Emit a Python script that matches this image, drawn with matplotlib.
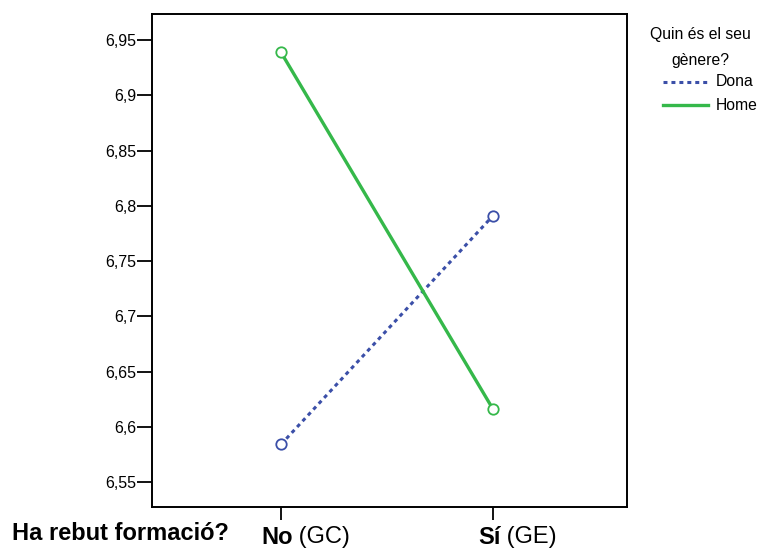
import matplotlib
matplotlib.use("Agg")
import matplotlib.pyplot as plt
from matplotlib.lines import Line2D

plt.rcParams['font.family'] = ['Liberation Sans', 'DejaVu Sans']

groups = ["No", "Sí"]
group_notes = ["(GC)", "(GE)"]
series_names = ["Dona", "Home"]
dona = [6.584, 6.791]
home = [6.939, 6.616]
yticks = [6.55, 6.6, 6.65, 6.7, 6.75, 6.8, 6.85, 6.9, 6.95]
ytick_labels = ["6,55", "6,6", "6,65", "6,7", "6,75", "6,8", "6,85", "6,9", "6,95"]

blue = "#3b4fa8"
green = "#35b84a"

fig = plt.figure(figsize=(7.6, 5.52), dpi=100)
ax = fig.add_axes([0.2, 0.0815, 0.625, 0.893])

x = list(range(len(groups)))
dotted = (0, (1.3, 1.3))
ax.plot(x, dona, color=blue, lw=2.2, ls=dotted, zorder=2)
ax.plot(x, home, color=green, lw=2.4, zorder=2)
ax.plot(x, dona, ls="none", marker="o", ms=7.5, mfc="white", mec=blue, mew=1.3, zorder=3)
ax.plot(x, home, ls="none", marker="o", ms=7.5, mfc="white", mec=green, mew=1.3, zorder=3)

ax.set_xlim(-0.608, 1.632)
ax.set_ylim(6.5274, 6.9735)
ax.set_yticks(yticks)
ax.set_yticklabels(ytick_labels, fontsize=11.5)
ax.set_xticks(x)
ax.set_xticklabels(["", ""])
ax.tick_params(axis='y', direction='out', length=10.5, width=1.3, pad=1)
ax.tick_params(axis='x', direction='out', length=9, width=1.3)
for s in ax.spines.values():
    s.set_linewidth(1.4)

# category labels: bold group name followed by regular note
for xi, g, n, dx in zip(x, groups, group_notes, (-20, -15)):
    t = ax.annotate(g, xy=(xi, 0), xycoords=('data', 'axes fraction'),
                    xytext=(dx, -30), textcoords='offset pixels',
                    ha='left', va='center', fontsize=17, fontweight='bold')
    ax.annotate(" " + n, xy=(1, 0.5), xycoords=t, ha='left', va='center',
                fontsize=17)

fig.text(12 / 760, 1 - 534 / 552, "Ha rebut formació?", fontsize=17,
         fontweight='bold', ha='left', va='center')

# legend
fig.text(700 / 760, 1 - 35 / 552, "Quin és el seu", fontsize=11.3, ha='center', va='center')
fig.text(700 / 760, 1 - 60 / 552, "gènere?", fontsize=11.3, ha='center', va='center')
for name, color, style, yy in [(series_names[0], blue, dotted, 82),
                               (series_names[1], green, '-', 105)]:
    fy = 1 - yy / 552
    fig.add_artist(Line2D([663 / 760, 708 / 760], [fy, fy], color=color,
                          lw=2.2 if style != '-' else 2.4, ls=style,
                          transform=fig.transFigure))
    fig.text(716 / 760, fy, name, fontsize=11.3, ha='left', va='center')

fig.savefig("out.png", dpi=100)
